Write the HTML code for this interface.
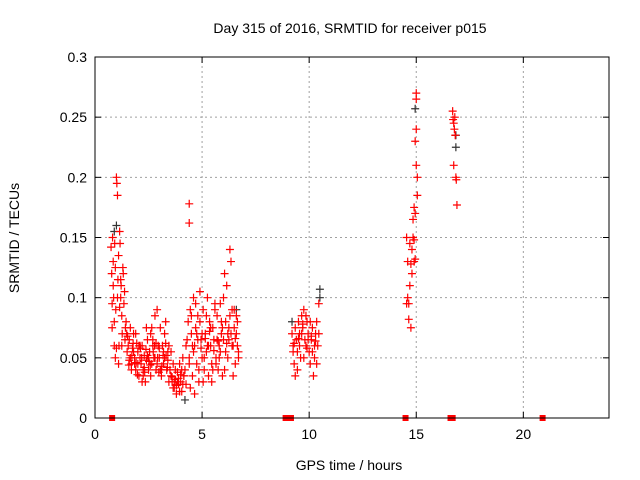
<!DOCTYPE html>
<html><head><meta charset="utf-8">
<style>
body{margin:0;background:#fff;}
svg{display:block;font-family:"Liberation Sans","DejaVu Sans",sans-serif;}
</style></head><body>
<svg id="chart" width="640" height="480">
<rect width="640" height="480" fill="#fff"/>
<text x="350" y="33" text-anchor="middle" font-size="14">Day 315 of 2016, SRMTID for receiver p015</text>
<text x="349" y="470" text-anchor="middle" font-size="14">GPS time / hours</text>
<text transform="translate(19,238) rotate(-90)" text-anchor="middle" font-size="14">SRMTID / TECUs</text>
<g id="grid"></g>
<g id="ticks"></g>
<g id="marks"></g>
<rect x="95" y="57" width="514" height="361" fill="none" stroke="#000"/>
</svg>
<script>
const xTicks=[0,5,10,15,20];
const yTicks=[0,0.05,0.1,0.15,0.2,0.25,0.3];
const yTickLabels=["0","0.05","0.1","0.15","0.2","0.25","0.3"];
const redT=[0.75,0.78,0.8,0.82,0.85,0.87,0.9,0.92,0.95,0.97,1.0,1.02,1.05,1.07,1.1,1.12,1.15,1.17,1.2,1.22,1.25,1.27,1.3,1.32,1.35,1.38,1.4,1.42,1.45,1.48,0.8,0.85,0.9,0.95,1.0,1.05,1.1,1.15,1.2,1.25,
1.5,1.55,1.6,1.65,1.7,1.75,1.8,1.85,1.9,1.95,2.0,2.05,2.1,2.15,2.2,2.25,2.3,2.35,2.4,2.45,2.5,2.55,2.6,2.65,2.7,2.75,2.8,2.85,2.9,2.95,3.0,3.05,3.1,3.15,3.2,3.25,3.3,3.35,3.4,3.45,1.6,1.7,1.8,1.9,2.0,2.1,2.2,2.3,2.4,2.5,2.6,2.7,2.8,2.9,3.0,3.1,3.2,3.3,3.4,1.65,1.85,2.05,2.25,2.45,2.65,2.85,3.05,3.25,3.45,
1.52,1.72,1.92,2.12,2.32,2.52,2.72,2.92,3.12,3.32,1.58,1.78,1.98,2.18,2.38,2.58,2.78,2.98,3.18,3.38,
3.5,3.55,3.6,3.65,3.7,3.75,3.8,3.85,3.9,3.95,4.0,4.05,4.1,4.15,4.2,4.25,3.55,3.65,3.75,3.85,3.95,4.05,4.15,4.25,4.4,4.4,3.6,3.7,3.8,3.9,4.0,4.1,
4.3,4.35,4.4,4.45,4.5,4.55,4.6,4.65,4.7,4.75,4.8,4.85,4.9,4.95,5.0,5.05,5.1,5.15,5.2,5.25,5.3,5.35,5.4,5.45,5.5,5.55,5.6,5.65,5.7,5.75,5.8,5.85,5.9,5.95,6.0,6.05,6.1,6.15,6.2,6.25,6.3,6.35,6.4,6.45,6.5,6.55,6.6,6.65,6.7,4.4,4.5,4.6,4.7,4.8,4.9,5.0,5.1,5.2,5.3,5.4,5.5,5.6,5.7,5.8,5.9,6.0,6.1,6.2,6.3,6.4,6.5,6.6,6.7,4.45,4.65,4.85,5.05,5.25,5.45,5.65,5.85,6.05,6.25,6.45,6.65,
4.55,4.75,4.95,5.15,5.35,5.55,5.75,5.95,6.15,6.35,6.55,
9.2,9.25,9.3,9.35,9.4,9.45,9.5,9.55,9.6,9.65,9.7,9.75,9.8,9.85,9.9,9.95,10.0,10.05,10.1,10.15,10.2,10.25,10.3,10.35,10.4,10.45,9.25,9.35,9.45,9.55,9.65,9.75,9.85,9.95,10.05,10.15,10.25,10.35,10.45,
9.3,9.5,9.7,9.9,10.1,10.3,
14.55,14.6,14.65,14.7,14.75,14.8,14.85,14.9,14.95,15.0,15.05,14.6,14.7,14.8,14.9,15.0,15.05,14.55,14.65,14.75,14.85,14.95,15.0,15.0,14.95,14.9,
16.7,16.72,16.75,16.78,16.8,16.82,16.85,16.87,16.9,16.75];
const redV=[0.142,0.12,0.095,0.15,0.13,0.1,0.08,0.145,0.125,0.09,0.2,0.195,0.185,0.115,0.135,0.06,0.155,0.145,0.1,0.11,0.085,0.07,0.125,0.12,0.095,0.105,0.065,0.075,0.08,0.07,0.075,0.11,0.06,0.05,0.058,0.1,0.045,0.092,0.115,0.06,
0.055,0.06,0.048,0.075,0.045,0.058,0.07,0.05,0.04,0.062,0.055,0.035,0.05,0.045,0.06,0.04,0.052,0.03,0.048,0.065,0.04,0.055,0.07,0.045,0.06,0.05,0.085,0.04,0.09,0.06,0.05,0.075,0.035,0.06,0.045,0.07,0.08,0.04,0.055,0.06,0.065,0.04,0.055,0.07,0.045,0.06,0.03,0.042,0.075,0.05,0.035,0.065,0.05,0.045,0.058,0.04,0.055,0.062,0.048,0.05,0.045,0.06,0.035,0.052,0.075,0.062,0.04,0.05,0.03,
0.068,0.052,0.046,0.058,0.038,0.047,0.055,0.05,0.043,0.052,0.044,0.062,0.036,0.05,0.057,0.044,0.06,0.038,0.052,0.042,
0.04,0.035,0.03,0.045,0.025,0.032,0.02,0.038,0.028,0.045,0.03,0.022,0.05,0.035,0.04,0.06,0.055,0.025,0.04,0.03,0.022,0.04,0.035,0.028,0.178,0.162,0.034,0.03,0.027,0.033,0.036,0.028,
0.065,0.08,0.05,0.09,0.07,0.035,0.1,0.06,0.075,0.045,0.085,0.03,0.105,0.065,0.05,0.09,0.04,0.07,0.055,0.1,0.035,0.08,0.06,0.045,0.075,0.065,0.09,0.05,0.085,0.04,0.06,0.095,0.07,0.035,0.065,0.12,0.08,0.11,0.05,0.075,0.14,0.13,0.09,0.06,0.075,0.045,0.085,0.06,0.05,0.045,0.085,0.055,0.095,0.065,0.08,0.07,0.05,0.085,0.06,0.075,0.04,0.095,0.065,0.05,0.08,0.1,0.055,0.07,0.085,0.06,0.09,0.07,0.055,0.025,0.02,0.04,0.03,0.06,0.03,0.045,0.055,0.04,0.065,0.035,0.08,
0.06,0.07,0.058,0.066,0.072,0.056,0.064,0.075,0.062,0.07,0.066,
0.07,0.06,0.045,0.035,0.065,0.055,0.08,0.07,0.05,0.085,0.075,0.09,0.065,0.06,0.08,0.07,0.055,0.045,0.065,0.075,0.035,0.05,0.07,0.08,0.06,0.095,0.055,0.075,0.04,0.06,0.07,0.05,0.085,0.065,0.08,0.055,0.06,0.045,0.07,
0.062,0.066,0.078,0.058,0.068,0.064,
0.15,0.13,0.095,0.11,0.075,0.14,0.15,0.13,0.17,0.27,0.2,0.1,0.145,0.12,0.175,0.24,0.185,0.095,0.082,0.128,0.165,0.23,0.21,0.265,0.132,0.148,
0.255,0.248,0.245,0.24,0.25,0.235,0.2,0.198,0.177,0.21];
const blackT=[0.9,1.0,4.2,10.5,10.5,14.95,16.85,16.85,9.2,6.6];
const blackV=[0.155,0.16,0.015,0.107,0.1,0.257,0.225,0.235,0.08,0.09];
const gapT=[0.8,8.9,9.15,14.5,16.6,16.7,20.9];

const NS="http://www.w3.org/2000/svg";
const X0=95,X1=609,Y0=418,Y1=57,XMAX=24,YMAX=0.3;
function xs(t){return X0+(X1-X0)*t/XMAX;}
function ys(v){return Y0-(Y0-Y1)*v/YMAX;}
function mk(tag,at,parent){const e=document.createElementNS(NS,tag);for(const k in at)e.setAttribute(k,at[k]);parent.appendChild(e);return e;}
const grid=document.getElementById('grid'),ticks=document.getElementById('ticks'),marks=document.getElementById('marks');
xTicks.forEach((t,i)=>{const x=xs(t);
 if(t>0){const g=mk('line',{x1:x,x2:x,y1:Y0,y2:Y1,stroke:'#a0a0a0','stroke-dasharray':'2,3'},grid);
 
 }
 mk('line',{x1:x,x2:x,y1:Y0,y2:Y0-6,stroke:'#000'},ticks);
 mk('line',{x1:x,x2:x,y1:Y1,y2:Y1+6,stroke:'#000'},ticks);
 const l=mk('text',{x:x,y:Y0+21,'text-anchor':'middle','font-size':'14'},ticks);l.textContent=String(t);
 
 });
yTicks.forEach((v,i)=>{const y=ys(v);
 if(v>0&&v<YMAX){const g=mk('line',{x1:X0,x2:X1,y1:y,y2:y,stroke:'#a0a0a0','stroke-dasharray':'2,3'},grid);
 
 }
 mk('line',{x1:X0,x2:X0+6,y1:y,y2:y,stroke:'#000'},ticks);
 mk('line',{x1:X1,x2:X1-6,y1:y,y2:y,stroke:'#000'},ticks);
 const l=mk('text',{x:X0-8,y:y+5,'text-anchor':'end','font-size':'14'},ticks);l.textContent=yTickLabels[i];
 
 });
function plus(t,v,c,name){const x=xs(t),y=ys(v);
 const p=mk('path',{d:`M${x-4},${y}h8M${x},${y-4}v8`,stroke:c,'stroke-width':'1.2',fill:'none'},marks);
 
 }
blackT.forEach((t,i)=>plus(t,blackV[i],'#333','black-point'));
redT.forEach((t,i)=>plus(t,redV[i],'#f00','red-point'));
gapT.forEach(t=>{const r=mk('rect',{x:xs(t)-3,y:Y0-3,width:6,height:6,fill:'#f00'},marks);
 
 });
</script>
</body></html>
